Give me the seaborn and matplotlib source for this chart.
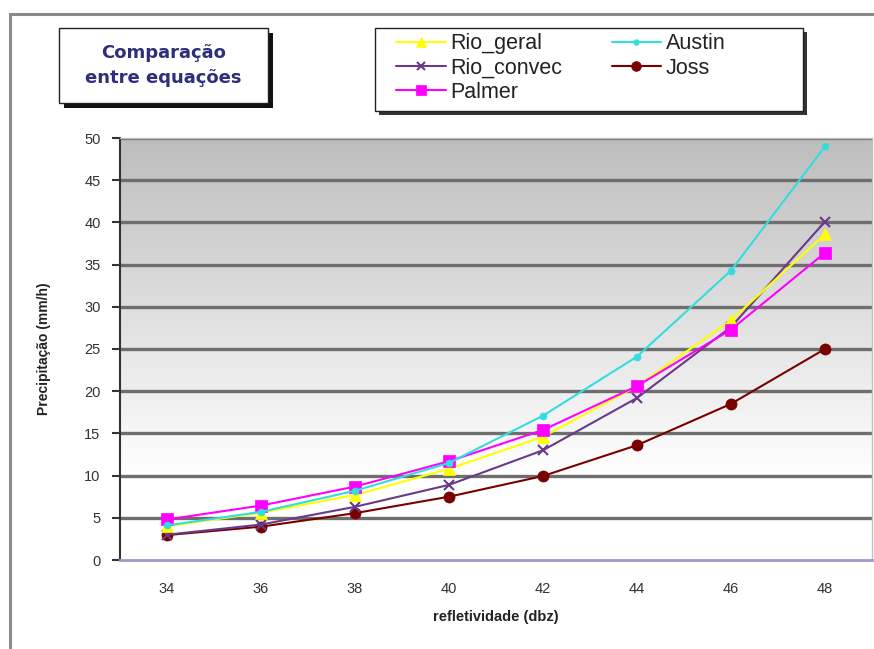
import numpy as np
import pandas as pd
import seaborn as sns
import matplotlib
matplotlib.use("Agg")
import matplotlib.pyplot as plt
from matplotlib.patches import Rectangle
from matplotlib.lines import Line2D
from matplotlib.colors import LinearSegmentedColormap

# ---- data ----
refletividade = [34, 36, 38, 40, 42, 44, 46, 48]
rio_geral = [4.0, 5.6, 7.7, 10.8, 14.6, 20.6, 28.4, 38.6]
austin = [4.1, 5.7, 8.2, 11.5, 17.1, 24.1, 34.3, 49.0]
rio_convec = [3.0, 4.2, 6.3, 8.9, 13.0, 19.2, 27.6, 40.1]
joss = [2.95, 3.95, 5.55, 7.5, 9.95, 13.6, 18.5, 25.0]
palmer = [4.8, 6.45, 8.7, 11.7, 15.4, 20.6, 27.3, 36.4]
y_ticks = [0, 5, 10, 15, 20, 25, 30, 35, 40, 45, 50]

series = {
    "Rio_geral": rio_geral,
    "Austin": austin,
    "Rio_convec": rio_convec,
    "Joss": joss,
    "Palmer": palmer,
}
colors = {
    "Rio_geral": "#ffff00",
    "Austin": "#33dddd",
    "Rio_convec": "#6a3a8a",
    "Joss": "#7a0000",
    "Palmer": "#ff00ff",
}
markers = {
    "Rio_geral": "^",
    "Austin": "o",
    "Rio_convec": "x",
    "Joss": "o",
    "Palmer": "s",
}
msizes = {"Rio_geral": 8, "Austin": 5, "Rio_convec": 7, "Joss": 8, "Palmer": 8}

rows = []
for name, vals in series.items():
    for x, v in zip(refletividade, vals):
        rows.append({"refletividade": x, "valor": v, "serie": name})
df = pd.DataFrame(rows)

sns.set_theme(style="white")
plt.rcParams["font.family"] = ["Liberation Sans", "DejaVu Sans"]

fig = plt.figure(figsize=(8.74, 6.49), dpi=100)
W, H = 874, 649
ax = fig.add_axes([120 / W, 1 - 560 / H, (872 - 120) / W, (560 - 138) / H])

# gradient background (grey at top, white toward bottom)
grad = np.linspace(1, 0, 256).reshape(-1, 1)
cmap = LinearSegmentedColormap.from_list(
    "g", [(0, "#ffffff"), (0.2, "#ffffff"), (1.0, "#bdbdbd")]
)
ax.imshow(grad, extent=[0, 1, 0, 1], transform=ax.transAxes, cmap=cmap,
          aspect="auto", zorder=0, vmin=0, vmax=1)

for v in y_ticks[1:]:
    ax.axhline(v, color="#6e6e6e", lw=2.4, zorder=1)

draw_order = ["Joss", "Rio_convec", "Rio_geral", "Palmer", "Austin"]
for name in draw_order:
    sub = df[df["serie"] == name]
    mec = colors[name]
    sns.lineplot(data=sub, x="refletividade", y="valor", ax=ax,
                 color=colors[name], lw=1.5, marker=markers[name],
                 markersize=msizes[name], markeredgecolor=mec,
                 markeredgewidth=1.5 if name == "Rio_convec" else 0.5,
                 zorder=3, legend=False)

ax.set_xlim(33, 49)
ax.set_ylim(0, 50)
ax.set_xticks(refletividade)
ax.set_xticklabels([str(v) for v in refletividade])
ax.set_yticks(y_ticks)
ax.set_yticklabels([str(v) for v in y_ticks])
ax.tick_params(axis="x", length=0, pad=16, labelsize=10.5, colors="#333333")
ax.tick_params(axis="y", length=6, width=1.5, color="#333333", direction="out",
               left=True, pad=8, labelsize=10.5, labelcolor="#333333")
for s in ["top", "right"]:
    ax.spines[s].set_color("#c0c0c0")
    ax.spines[s].set_linewidth(1.0)
ax.spines["left"].set_color("#333333")
ax.spines["left"].set_linewidth(1.5)
ax.spines["bottom"].set_color("#9a9ac8")
ax.spines["bottom"].set_linewidth(2)

ax.set_xlabel("refletividade (dbz)", fontsize=10.5, fontweight="bold",
              color="#222222", labelpad=10)
ax.set_ylabel("Precipitação (mm/h)", fontsize=10, fontweight="bold",
              color="#222222", labelpad=24)

# outer chart frame
fig.patches.append(Rectangle((10 / W, -0.05), 1.2, 1 - 14 / H + 0.05,
                             transform=fig.transFigure, fill=False,
                             edgecolor="#8a8a8a", lw=2.2, zorder=0))

# title box with shadow
tx0, ty0, tx1, ty1 = 59, 28, 268, 103
fig.patches.append(Rectangle(((tx0 + 5) / W, 1 - (ty1 + 5) / H),
                             (tx1 - tx0) / W, (ty1 - ty0) / H,
                             transform=fig.transFigure, facecolor="#111111",
                             edgecolor="none", zorder=1))
fig.patches.append(Rectangle((tx0 / W, 1 - ty1 / H), (tx1 - tx0) / W,
                             (ty1 - ty0) / H, transform=fig.transFigure,
                             facecolor="white", edgecolor="#222222", lw=1,
                             zorder=2))
fig.text((tx0 + tx1) / 2 / W, 1 - (ty0 + ty1) / 2 / H,
         "Comparação\nentre equações", ha="center", va="center",
         fontsize=13, fontweight="bold", color="#2e2e7a",
         family=["DejaVu Sans"], linespacing=1.45, zorder=3)

# legend box with shadow
lx0, ly0, lx1, ly1 = 375, 28, 803, 111
fig.patches.append(Rectangle(((lx0 + 4) / W, 1 - (ly1 + 4) / H),
                             (lx1 - lx0) / W, (ly1 - ly0) / H,
                             transform=fig.transFigure, facecolor="#333333",
                             edgecolor="none", zorder=1))
fig.patches.append(Rectangle((lx0 / W, 1 - ly1 / H), (lx1 - lx0) / W,
                             (ly1 - ly0) / H, transform=fig.transFigure,
                             facecolor="white", edgecolor="#222222", lw=1,
                             zorder=2))
handle_order = ["Rio_geral", "Rio_convec", "Palmer", "Austin", "Joss"]
handles = [Line2D([], [], color=colors[n], lw=1.5, marker=markers[n],
                  markersize=msizes[n] - 1, markeredgecolor=colors[n],
                  markeredgewidth=1.5 if n == "Rio_convec" else 0.5)
           for n in handle_order]
leg = fig.legend(handles, handle_order, ncol=2,
                 loc="upper left", bbox_to_anchor=(392 / W, 1 - (ly0 + 1) / H),
                 frameon=False, fontsize=15.5, handlelength=2.3,
                 handletextpad=0.2, columnspacing=2.3, labelspacing=0.15,
                 borderaxespad=0, borderpad=0.2)
leg.set_zorder(4)
for t in leg.get_texts():
    t.set_color("#222222")

fig.savefig("out.png", dpi=100)
